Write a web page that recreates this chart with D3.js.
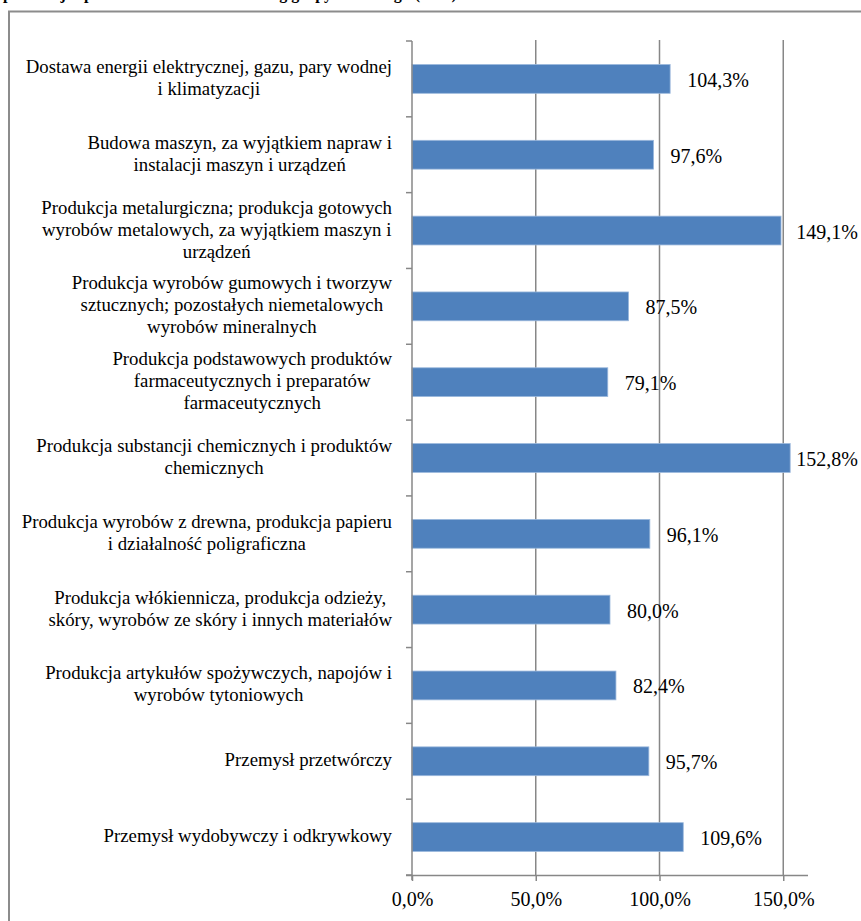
<!DOCTYPE html>
<html><head><meta charset="utf-8">
<script src="https://cdn.jsdelivr.net/npm/d3@7"></script>
<style>
html,body{margin:0;padding:0;background:#fff;overflow:hidden;}
svg{display:block;}
svg text{font-family:"Liberation Serif","Tinos","Times New Roman",Times,"DejaVu Serif",serif;}
</style></head><body>
<svg id="chart" width="861" height="921"></svg>
<script>
const titleText = "produkcja sprzedana w sektorach według grupy technologii (w %)";
const categories = [
  ["Dostawa energii elektrycznej, gazu, pary wodnej", "i klimatyzacji"],
  ["Budowa maszyn, za wyjątkiem napraw i", "instalacji maszyn i urządzeń"],
  ["Produkcja metalurgiczna; produkcja gotowych", "wyrobów metalowych, za wyjątkiem maszyn i", "urządzeń"],
  ["Produkcja wyrobów gumowych i tworzyw", "sztucznych; pozostałych niemetalowych", "wyrobów mineralnych"],
  ["Produkcja podstawowych produktów", "farmaceutycznych i preparatów", "farmaceutycznych"],
  ["Produkcja substancji chemicznych i produktów", "chemicznych"],
  ["Produkcja wyrobów z drewna, produkcja papieru", "i działalność poligraficzna"],
  ["Produkcja włókiennicza, produkcja odzieży,", "skóry, wyrobów ze skóry i innych materiałów"],
  ["Produkcja artykułów spożywczych, napojów i", "wyrobów tytoniowych"],
  ["Przemysł przetwórczy"],
  ["Przemysł wydobywczy i odkrywkowy"]
];
const values = [104.3, 97.6, 149.1, 87.5, 79.1, 152.8, 96.1, 80.0, 82.4, 95.7, 109.6];
const xTicks = [0, 50, 100, 150];

const fmt = v => v.toFixed(1).replace(".", ",") + "%";

const svg = d3.select("#chart");
const mLeft = 412, mRight = 808, mTop = 41, mBottom = 875, labelMaxRight = 858;

// cut-off title at the very top
svg.append("text").attr("x", 3).attr("y", -1.5)
  .attr("font-weight", "bold").attr("font-size", 16).attr("fill", "#000")
  .text(titleText);

// outer frame
svg.append("path").attr("d", "M9,921 V11.5 H861")
  .attr("fill", "none").attr("stroke", "#8c8c8c").attr("stroke-width", 2);

const x = d3.scaleLinear().domain([0, 160]).range([mLeft, mRight]);
const y = d3.scaleBand().domain(d3.range(values.length)).range([mTop, mBottom]).paddingInner(0.62).paddingOuter(0.31);
const yb = d3.scaleBand().domain(d3.range(values.length)).range([mTop, mBottom]);

// gridlines
svg.append("g").selectAll("line").data(xTicks.filter(t => t > 0)).join("line")
  .attr("x1", d => x(d)).attr("x2", d => x(d)).attr("y1", mTop - 1).attr("y2", mBottom)
  .attr("stroke", "#878787").attr("stroke-width", 1.5);

// bars
svg.append("g").selectAll("rect").data(values).join("rect")
  .attr("x", x(0)).attr("y", (d, i) => y(i))
  .attr("width", d => x(d) - x(0)).attr("height", y.bandwidth())
  .attr("fill", "#4f81bd").attr("stroke", "#9bb8dc").attr("stroke-width", 0.8);

// value labels (kept inside the frame like the original)
svg.append("g").selectAll("text").data(values).join("text")
  .attr("y", (d, i) => yb(i) + yb.bandwidth() / 2 + 8)
  .attr("font-size", 20).attr("fill", "#000").text(d => fmt(d))
  .each(function(d) {
    const w = this.getComputedTextLength();
    d3.select(this).attr("x", Math.min(x(d) + 17, labelMaxRight - w));
  });

// y axis ticks and line
const yTickPos = d3.range(values.length + 1).map(i => mTop + i * yb.step());
svg.append("g").selectAll("line").data(yTickPos).join("line")
  .attr("x1", mLeft - 6).attr("x2", mLeft).attr("y1", d => d).attr("y2", d => d)
  .attr("stroke", "#878787").attr("stroke-width", 1.5);
svg.append("line").attr("x1", mLeft).attr("x2", mLeft).attr("y1", mTop).attr("y2", mBottom + 5)
  .attr("stroke", "#878787").attr("stroke-width", 1.5);

// x axis
const gx = svg.append("g").attr("transform", `translate(0,${mBottom})`)
  .call(d3.axisBottom(x).tickValues(xTicks).tickSize(6).tickSizeOuter(0).tickFormat(d => fmt(d)));
gx.attr("font-family", null);
gx.select(".domain").attr("d", `M${mLeft - 6},0.5H${mRight}`).attr("stroke", "#878787").attr("stroke-width", 1.5);
gx.selectAll(".tick line").attr("stroke", "#878787").attr("stroke-width", 1.5);
gx.selectAll(".tick text").attr("font-size", 20).attr("fill", "#000").attr("dy", 0).attr("y", 31);

// category labels (centred block, right-aligned)
const lh = 22, labelRight = 392;
const lg = svg.append("g");
categories.forEach((lines, i) => {
  const cy = yb(i) + yb.bandwidth() / 2;
  const t = lg.append("text").attr("font-size", 18.8).attr("fill", "#000").attr("text-anchor", "middle");
  lines.forEach((ln, j) => {
    t.append("tspan").attr("y", cy + 5 + (j - (lines.length - 1) / 2) * lh).text(ln);
  });
  let w = 0;
  t.selectAll("tspan").each(function() { w = Math.max(w, this.getComputedTextLength()); });
  t.selectAll("tspan").attr("x", labelRight - w / 2);
});
</script>
</body></html>
